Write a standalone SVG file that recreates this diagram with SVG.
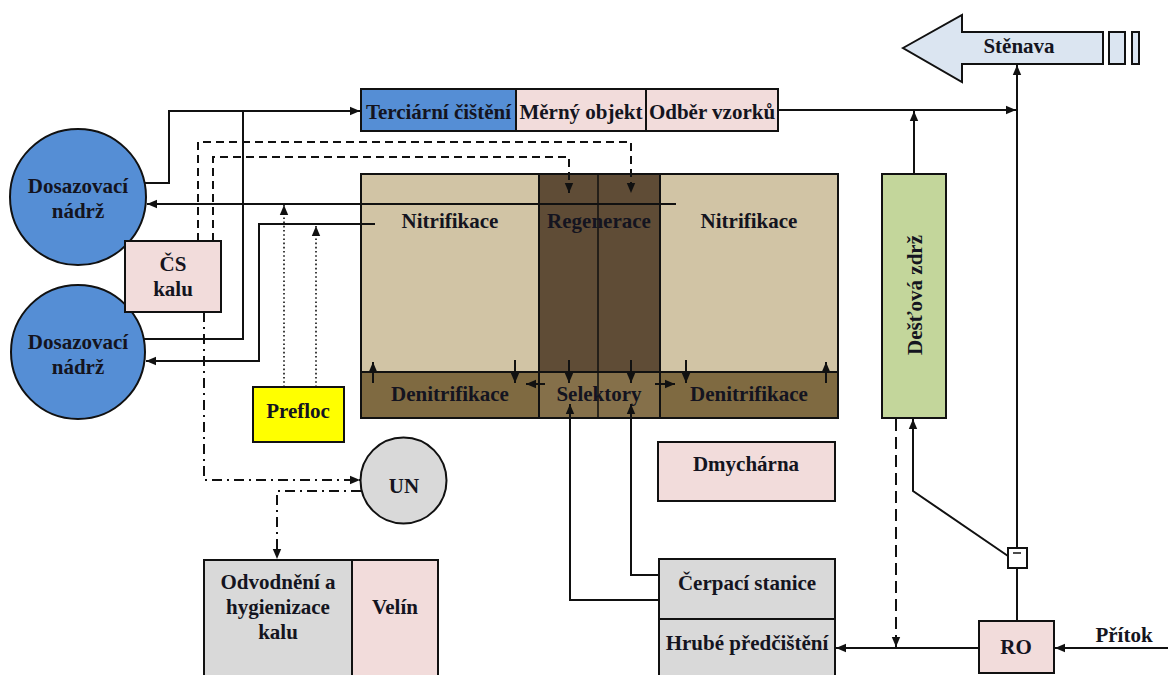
<svg xmlns="http://www.w3.org/2000/svg" width="1168" height="675" viewBox="0 0 1168 675">
<defs>
<style>
.t{font-family:"Liberation Serif","Times New Roman",serif;font-weight:bold;font-size:21px;fill:#141420;text-anchor:middle}
.b{stroke:#111;stroke-width:2}
.c{fill:none;stroke:#111;stroke-width:2}
.dash{stroke-dasharray:8 5}
.ldash{stroke-dasharray:12 6}
.dot{stroke-width:1.6;stroke-dasharray:1.6 2.6}
.dd{stroke-dasharray:10 5 2 5}
</style>
<marker id="ah" viewBox="0 0 10 10" refX="10" refY="5" markerWidth="10" markerHeight="10" markerUnits="userSpaceOnUse" orient="auto"><path d="M0,0.8 L10,5 L0,9.2 z" fill="#111"/></marker>
</defs>
<rect width="1168" height="675" fill="#fff"/>

<g id="stenava">
<polygon points="903,48 962,15 962,32 1103,32 1103,64 962,64 962,82" fill="#dbe5f1" class="b"/>
<rect x="1109" y="32" width="16" height="32" fill="#dbe5f1" class="b"/>
<rect x="1132" y="32" width="7" height="32" fill="#dbe5f1" class="b"/>
<text class="t" x="1019" y="53">Stěnava</text>
</g>

<g id="terciarni">
<rect x="361" y="89" width="155" height="42" fill="#558ed5" class="b"/>
<text class="t" x="438.5" y="119">Terciární čištění</text>
</g>
<g id="merny">
<rect x="516" y="89" width="130" height="42" fill="#f2dcdb" class="b"/>
<text class="t" x="581" y="119">Měrný objekt</text>
</g>
<g id="odber">
<rect x="646" y="89" width="132" height="42" fill="#f2dcdb" class="b"/>
<text class="t" x="712" y="119">Odběr vzorků</text>
</g>

<g id="dosaz1">
<circle cx="78" cy="197" r="68" fill="#558ed5" class="b"/>
<text class="t" x="78" y="193">Dosazovací</text>
<text class="t" x="78" y="218">nádrž</text>
</g>
<g id="dosaz2">
<circle cx="78" cy="352" r="67" fill="#558ed5" class="b"/>
<text class="t" x="78" y="349">Dosazovací</text>
<text class="t" x="78" y="374">nádrž</text>
</g>

<g id="cskalu">
<rect x="125" y="241" width="96" height="71" fill="#f2dcdb" class="b"/>
<text class="t" x="173" y="271">ČS</text>
<text class="t" x="173" y="296">kalu</text>
</g>

<g id="prefloc">
<rect x="253" y="387" width="91" height="55" fill="#ffff00" class="b"/>
<text class="t" x="298" y="418">Prefloc</text>
</g>

<g id="un">
<circle cx="403.5" cy="480.5" r="43" fill="#d9d9d9" class="b"/>
<text class="t" x="404" y="493">UN</text>
</g>

<g id="odvodneni">
<rect x="204" y="560" width="148" height="120" fill="#d9d9d9" class="b"/>
<text class="t" x="278" y="589">Odvodnění a</text>
<text class="t" x="278" y="614">hygienizace</text>
<text class="t" x="278" y="639">kalu</text>
</g>
<g id="velin">
<rect x="352" y="560" width="86" height="120" fill="#f2dcdb" class="b"/>
<text class="t" x="395" y="614">Velín</text>
</g>

<g id="basin">
<rect x="361" y="174" width="178" height="198" fill="#d1c4a5" class="b"/>
<rect x="539" y="174" width="121" height="198" fill="#5f4c36" class="b"/>
<rect x="660" y="174" width="178" height="198" fill="#d1c4a5" class="b"/>
<rect x="361" y="372" width="178" height="46" fill="#7f6a41" class="b"/>
<rect x="539" y="372" width="121" height="46" fill="#85704a" class="b"/>
<rect x="660" y="372" width="178" height="46" fill="#7f6a41" class="b"/>
<line x1="598" y1="174" x2="598" y2="418" stroke="#111" stroke-width="1.5"/>
<text class="t" x="450" y="228">Nitrifikace</text>
<text class="t" x="599" y="228">Regenerace</text>
<text class="t" x="749" y="228">Nitrifikace</text>
<text class="t" x="450" y="401">Denitrifikace</text>
<text class="t" x="599" y="401">Selektory</text>
<text class="t" x="749" y="401">Denitrifikace</text>
</g>

<g id="destova">
<rect x="882" y="174" width="64" height="244" fill="#c3d69b" class="b"/>
<text class="t" transform="translate(922,295) rotate(-90)" x="0" y="0">Dešťová zdrž</text>
</g>

<g id="dmycharna">
<rect x="658" y="442" width="177" height="59" fill="#f2dcdb" class="b"/>
<text class="t" x="746" y="471">Dmychárna</text>
</g>

<g id="cerpaci">
<rect x="659" y="559" width="176" height="60" fill="#d9d9d9" class="b"/>
<text class="t" x="747" y="590">Čerpací stanice</text>
</g>
<g id="hrube">
<rect x="659" y="619" width="176" height="61" fill="#d9d9d9" class="b"/>
<text class="t" x="747" y="650">Hrubé předčištění</text>
</g>

<g id="ro">
<rect x="979" y="621" width="75" height="52" fill="#f2dcdb" class="b"/>
<text class="t" x="1016" y="654">RO</text>
</g>

<g id="pritok">
<text class="t" x="1124" y="642">Přítok</text>
</g>

<g id="connectors">
<path class="c" d="M144,183 H169 V111 H360" marker-end="url(#ah)"/>
<path class="c" d="M144,339 H243 V111"/>
<path class="c" d="M375,224 H259 V361 H146" marker-end="url(#ah)"/>
<path class="c" d="M676,204 H147" marker-end="url(#ah)"/>
<path class="c dash" d="M198,241 V142 H631 V193" marker-end="url(#ah)"/>
<path class="c dash" d="M213,241 V157 H569 V193" marker-end="url(#ah)"/>
<path class="c dot" d="M284,387 V205" marker-end="url(#ah)"/>
<path class="c dot" d="M316,387 V226" marker-end="url(#ah)"/>
<path class="c dd" d="M204,312 V480 H360" marker-end="url(#ah)"/>
<path class="c dd" d="M361,491 H277 V559" marker-end="url(#ah)"/>
<path class="c" d="M373,383 V362" marker-end="url(#ah)"/>
<path class="c" d="M515,360 V383" marker-end="url(#ah)"/>
<path class="c" d="M545,384 H526" marker-end="url(#ah)"/>
<path class="c" d="M569,360 V383" marker-end="url(#ah)"/>
<path class="c" d="M631,360 V383" marker-end="url(#ah)"/>
<path class="c" d="M655,384 H675" marker-end="url(#ah)"/>
<path class="c" d="M686,360 V383" marker-end="url(#ah)"/>
<path class="c" d="M826,383 V362" marker-end="url(#ah)"/>
<path class="c" d="M659,600 H570 V404" marker-end="url(#ah)"/>
<path class="c" d="M659,575 H631 V404" marker-end="url(#ah)"/>
<path class="c" d="M778,110 H1016" marker-end="url(#ah)"/>
<path class="c" d="M914,174 V111" marker-end="url(#ah)"/>
<path class="c" d="M1017,621 V65" marker-end="url(#ah)"/>
<path class="c" d="M1008,556 L913,491 V419" marker-end="url(#ah)"/>
<path class="c ldash" d="M896,419 V647" marker-end="url(#ah)"/>
<path class="c" d="M979,648 H836" marker-end="url(#ah)"/>
<path class="c" d="M1168,648 H1055" marker-end="url(#ah)"/>
</g>

<g id="valve">
<rect x="1008" y="548" width="19" height="20" fill="#fff" class="b"/>
<line x1="1013" y1="553" x2="1021" y2="553" stroke="#111" stroke-width="1.5"/>
</g>
</svg>
